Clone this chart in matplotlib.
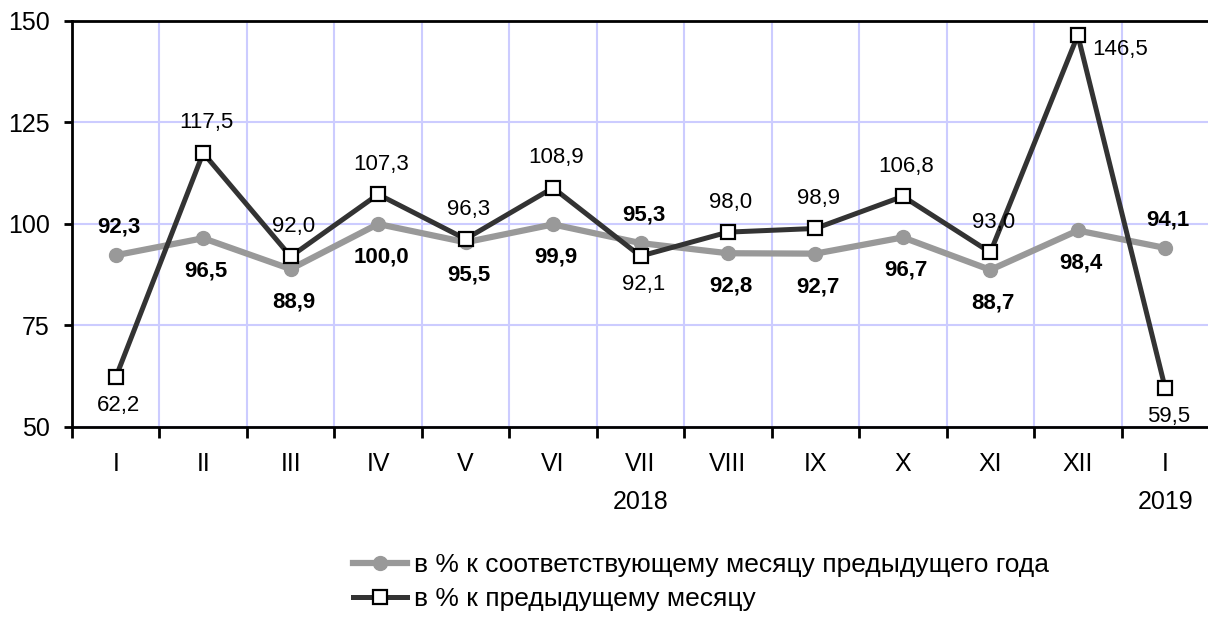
import matplotlib.pyplot as plt

plt.rcParams['font.family'] = ['Liberation Sans', 'DejaVu Sans']

months = ["I", "II", "III", "IV", "V", "VI", "VII", "VIII", "IX", "X", "XI", "XII", "I"]
yoy = [92.3, 96.5, 88.9, 100.0, 95.5, 99.9, 95.3, 92.8, 92.7, 96.7, 88.7, 98.4, 94.1]
mom = [62.2, 117.5, 92.0, 107.3, 96.3, 108.9, 92.1, 98.0, 98.9, 106.8, 93.0, 146.5, 59.5]
# label side: 1 above, -1 below, 0 right
yoy_side = [1, -1, -1, -1, -1, -1, 1, -1, -1, -1, -1, -1, 1]
mom_side = [-1, 1, 1, 1, 1, 1, -1, 1, 1, 1, 1, 0, -1]
years = [(6, "2018"), (12, "2019")]
yoy_name = "в % к соответствующему месяцу предыдущего года"
mom_name = "в % к предыдущему месяцу"

FS = 18      # axis labels
LFS = 16     # data labels
GFS = 19     # legend


def fmt(v):
    return f"{v:.1f}".replace(".", ",")


fig = plt.figure(figsize=(12.08, 6.18), dpi=100)
ax = fig.add_axes([72 / 1208, 1 - 427 / 618, 1137 / 1208, 406 / 618])

x = list(range(len(months)))
l1, = ax.plot(x, yoy, color="#999999", lw=4.5, marker="o", ms=10,
              mfc="#999999", mec="#999999", zorder=3, label=yoy_name)
l2, = ax.plot(x, mom, color="#333333", lw=3.6, marker="s", ms=9.5,
              mfc="white", mec="black", mew=1.6, zorder=4, label=mom_name)

for i, (v, s) in enumerate(zip(yoy, yoy_side)):
    dy = 28 if s > 0 else -33
    ax.annotate(fmt(v), (i, v), xytext=(3, dy), textcoords="offset pixels",
                ha="center", va="center", fontsize=LFS, fontweight="bold", zorder=5)

for i, (v, s) in enumerate(zip(mom, mom_side)):
    if s == 0:
        xy, ha = (14, -14), "left"
    else:
        xy, ha = (3, 30 if s > 0 else -28), "center"
    ax.annotate(fmt(v), (i, v), xytext=xy, textcoords="offset pixels",
                ha=ha, va="center", fontsize=LFS, zorder=5)

ax.set_xlim(-0.5, len(months) - 0.5)
ax.set_ylim(50, 150)
ax.set_yticks([50, 75, 100, 125, 150])
ax.tick_params(axis="y", labelsize=FS, length=6, width=2, direction="out", pad=10)

ax.set_xticks([i - 0.5 for i in range(len(months) + 1)])
ax.set_xticklabels([])
ax.set_xticks(x, minor=True)
ax.set_xticklabels(months, minor=True)
ax.tick_params(axis="x", which="minor", length=0, labelsize=FS, pad=18)
ax.tick_params(axis="x", which="major", length=8, width=2, direction="out")

for xi, yr in years:
    ax.text(xi, -0.185, yr, transform=ax.get_xaxis_transform(),
            ha="center", va="center", fontsize=FS)

ax.grid(True, which="major", color="#ccccff", lw=1.5, zorder=0)
for side in ["left", "bottom", "top"]:
    ax.spines[side].set_linewidth(2)
ax.spines["right"].set_color("#cccccc")

fig.legend(handles=[l1, l2], loc="upper left", bbox_to_anchor=(353 / 1208, 1 - 553 / 618),
           frameon=False, fontsize=GFS, handlelength=2.05, handletextpad=0.27,
           labelspacing=0.38, borderaxespad=0, borderpad=0)

fig.savefig("out.png", dpi=100)
